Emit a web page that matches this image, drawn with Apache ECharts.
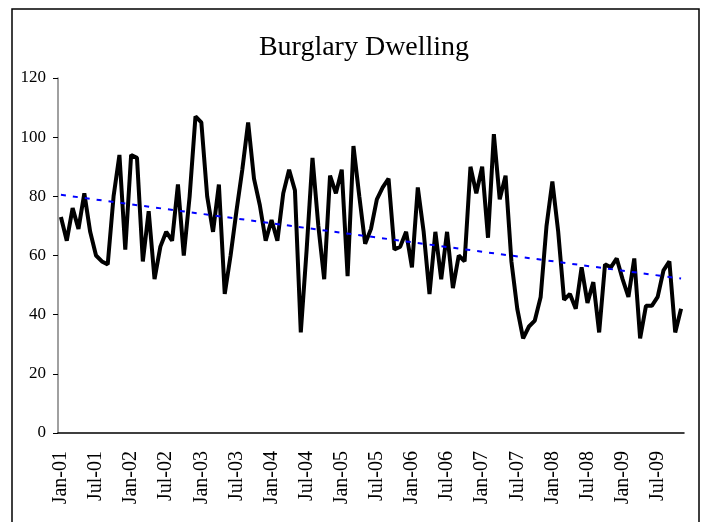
<!DOCTYPE html>
<html>
<head>
<meta charset="utf-8">
<script src="https://cdn.jsdelivr.net/npm/echarts@6/dist/echarts.min.js"></script>
<style>
  html, body { margin: 0; padding: 0; background: #fff; }
  #chart { width: 709px; height: 522px; }
</style>
</head>
<body>
<div id="chart"></div>
<script>
const years = ['01', '02', '03', '04', '05', '06', '07', '08', '09']
const monthNames = ['Jan', 'Feb', 'Mar', 'Apr', 'May', 'Jun', 'Jul', 'Aug', 'Sep', 'Oct', 'Nov', 'Dec']

// monthly counts, Jan-01 .. Nov-09
const burglary = [
  73, 65, 76, 69, 81, 68, 60, 58, 57, 80, 94, 62,
  94, 93, 58, 75, 52, 63, 68, 65, 84, 60, 80, 107,
  105, 80, 68, 84, 47, 60, 75, 89, 105, 86, 77, 65,
  72, 65, 81, 89, 82, 34, 62, 93, 70, 52, 87, 81,
  89, 53, 97, 80, 64, 69, 79, 83, 86, 62, 63, 68,
  56, 83, 68, 47, 68, 52, 68, 49, 60, 58, 90, 81,
  90, 66, 101, 79, 87, 58, 42, 32, 36, 38, 46, 70,
  85, 68, 45, 47, 42, 56, 44, 51, 34, 57, 56, 59,
  52, 46, 59, 32, 43, 43, 46, 55, 58, 34, 42
]

// linear trend, value at first and last month
const trendEnds = [80.5, 52.2]

const months = []
years.forEach(y => monthNames.forEach(m => months.push(m + '-' + y)))
const categories = months.slice(0, burglary.length)

const trend = categories.map((c, i) => {
  if (i === 0) return trendEnds[0]
  if (i === categories.length - 1) return trendEnds[1]
  return null
})

const serif = "'Liberation Serif', 'Times New Roman', serif"

const chart = echarts.init(document.getElementById('chart'))

chart.setOption({
  animation: false,
  backgroundColor: '#fff',
  title: {
    text: 'Burglary Dwelling',
    left: 359,
    top: 29,
    textAlign: 'center',
    textStyle: {
      fontFamily: serif,
      fontSize: 28,
      fontWeight: 'normal',
      color: '#000'
    }
  },
  graphic: [
    {
      type: 'rect',
      shape: { x: 12, y: 9, width: 687, height: 530 },
      style: { fill: 'none', stroke: '#000', lineWidth: 1.5 },
      silent: true
    }
  ],
  grid: {
    left: 58,
    right: 25,
    top: 78,
    bottom: 89
  },
  xAxis: {
    type: 'category',
    data: categories,
    boundaryGap: true,
    axisLine: {
      lineStyle: { color: '#000', width: 1.5 }
    },
    axisTick: {
      interval: 5,
      length: 6,
      lineStyle: { color: '#808080', width: 1.5 }
    },
    axisLabel: {
      interval: 5,
      rotate: 90,
      margin: 18,
      color: '#000',
      fontFamily: serif,
      fontSize: 20
    },
    splitLine: { show: false }
  },
  yAxis: {
    type: 'value',
    min: 0,
    max: 120,
    interval: 20,
    axisLine: {
      show: true,
      lineStyle: { color: '#808080', width: 1.5 }
    },
    axisTick: {
      show: true,
      length: 5,
      lineStyle: { color: '#000', width: 1 }
    },
    axisLabel: {
      margin: 12,
      color: '#000',
      fontFamily: serif,
      fontSize: 17
    },
    splitLine: { show: false }
  },
  series: [
    {
      name: 'Burglary Dwelling',
      type: 'line',
      data: burglary,
      showSymbol: false,
      symbol: 'none',
      lineStyle: { color: '#000', width: 4 }
    },
    {
      name: 'Trend',
      type: 'line',
      data: trend,
      connectNulls: true,
      showSymbol: false,
      symbol: 'none',
      lineStyle: { color: '#0000ff', width: 2, type: [5, 7] }
    }
  ]
})
</script>
</body>
</html>
